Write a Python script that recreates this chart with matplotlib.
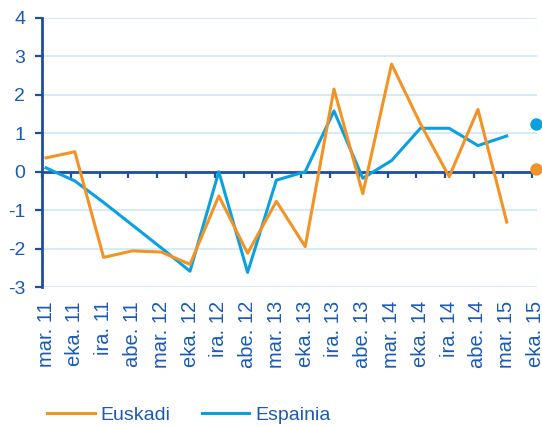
import numpy as np
import matplotlib
matplotlib.use('Agg')
import matplotlib.pyplot as plt

plt.rcParams['font.family'] = ['Liberation Sans', 'DejaVu Sans']
plt.rcParams['axes.unicode_minus'] = False

# categories (quarters) and values
labels = ['mar. 11', 'eka. 11', 'ira. 11', 'abe. 11', 'mar. 12', 'eka. 12',
          'ira. 12', 'abe. 12', 'mar. 13', 'eka. 13', 'ira. 13', 'abe. 13',
          'mar. 14', 'eka. 14', 'ira. 14', 'abe. 14', 'mar. 15', 'eka. 15']
euskadi = [0.36, 0.52, -2.23, -2.06, -2.09, -2.41, -0.63, -2.12, -0.77,
           -1.95, 2.15, -0.57, 2.80, 1.25, -0.13, 1.62, -1.31]
espainia = [0.10, -0.24, -0.80, -1.39, -1.98, -2.59, 0.0, -2.62, -0.22,
            0.0, 1.58, -0.17, 0.29, 1.13, 1.13, 0.68, 0.93]
# last quarter is shown only as a dot
euskadi_last = 0.06
espainia_last = 1.23

orange = '#f39325'
blue = '#0ba0e0'
dark = '#1d4f9f'
text_blue = '#1a5ab8'
grid_col = '#cde9f6'

fig = plt.figure(figsize=(5.42, 4.26), dpi=100)
ax = fig.add_axes([42 / 542, 1 - 287 / 426, (537 - 42) / 542, (287 - 18) / 426])

x = np.arange(len(labels))
l1, = ax.plot(x[:len(euskadi)], euskadi, color=orange, lw=2.2, zorder=4, label='Euskadi')
l2, = ax.plot(x[:len(espainia)], espainia, color=blue, lw=2.2, zorder=3, label='Espainia')
ax.scatter([x[-1]], [espainia_last], s=80, color=blue, zorder=5, clip_on=False, linewidths=0)
ax.scatter([x[-1]], [euskadi_last], s=80, color=orange, zorder=5, clip_on=False, linewidths=0)

ax.set_xlim(-0.14, len(labels) - 1 + 0.05)
ax.set_ylim(-3, 4)
ax.set_yticks(range(-3, 5))
ax.yaxis.grid(True, color=grid_col, lw=1.2)
ax.set_axisbelow(True)

for s in ['top', 'right']:
    ax.spines[s].set_visible(False)
ax.spines['left'].set_color(dark)
ax.spines['left'].set_linewidth(2)
ax.spines['bottom'].set_position(('data', 0))
ax.spines['bottom'].set_color(dark)
ax.spines['bottom'].set_linewidth(2)

# tick marks on the zero line, between categories
ax.set_xticks(x - 0.14)
ax.tick_params(axis='x', direction='out', length=4.5, width=1.6, color=dark, labelbottom=False)
ax.tick_params(axis='y', direction='out', length=5, width=1.6, color=dark,
               labelsize=14, labelcolor=text_blue, pad=7)

# category labels at the bottom
sec = ax.secondary_xaxis('bottom')
sec.set_xticks(x, labels, rotation=90)
sec.tick_params(length=0, pad=10, labelsize=14.5, labelcolor=text_blue)
sec.spines['bottom'].set_visible(False)

leg = fig.legend(handles=[l1, l2], loc='center left', bbox_to_anchor=(47 / 542, 11 / 426),
                 ncol=2, frameon=False, fontsize=14, handlelength=2.45, handletextpad=0.3,
                 columnspacing=1.6, borderpad=0, borderaxespad=0, labelcolor=text_blue)

fig.savefig('out.png', dpi=100)
